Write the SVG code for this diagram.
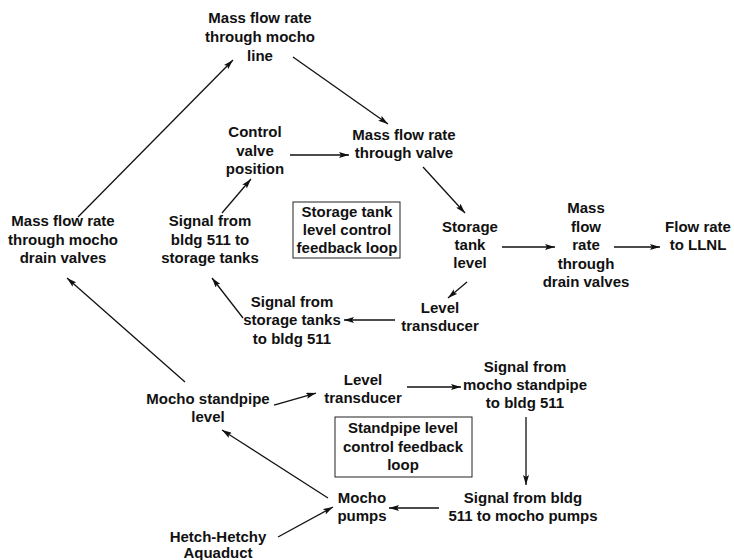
<svg xmlns="http://www.w3.org/2000/svg" width="734" height="560" viewBox="0 0 734 560">
<defs>
<marker id="ah" viewBox="0 0 10 6" markerWidth="10" markerHeight="6" refX="10" refY="3" orient="auto" markerUnits="userSpaceOnUse">
<path d="M0,0 L10,3 L0,6 L2,3 z" fill="#111"/>
</marker>
<style>
text{font-family:"Liberation Sans",Arial,Helvetica,sans-serif;font-size:15px;font-weight:bold;fill:#111;text-anchor:middle}
.c line{stroke:#111;stroke-width:1.3;marker-end:url(#ah)}
.box{fill:none;stroke:#222;stroke-width:1}
</style>
</defs>
<rect width="734" height="560" fill="#fff"/>
<g id="n1"><text x="260" y="23">Mass flow rate</text><text x="260" y="42">through mocho</text><text x="260" y="61">line</text></g>
<g id="n2"><text x="255" y="137">Control</text><text x="255" y="155.5">valve</text><text x="255" y="174">position</text></g>
<g id="n3"><text x="404" y="140">Mass flow rate</text><text x="404" y="158">through valve</text></g>
<g id="n4"><text x="210" y="226">Signal from</text><text x="210" y="245">bldg 511 to</text><text x="210" y="263">storage tanks</text></g>
<g id="n5"><text x="63" y="226">Mass flow rate</text><text x="63" y="245">through mocho</text><text x="63" y="263">drain valves</text></g>
<g id="box1"><rect class="box" x="293" y="202" width="107" height="56"/><text x="347" y="217">Storage tank</text><text x="347" y="235">level control</text><text x="347" y="253">feedback loop</text></g>
<g id="n6"><text x="470" y="232">Storage</text><text x="470" y="250">tank</text><text x="470" y="268">level</text></g>
<g id="n7"><text x="586" y="213">Mass</text><text x="586" y="231.5">flow</text><text x="586" y="250">rate</text><text x="586" y="268.5">through</text><text x="586" y="287">drain valves</text></g>
<g id="n8"><text x="698" y="232">Flow rate</text><text x="698" y="250">to LLNL</text></g>
<g id="n9"><text x="440" y="313">Level</text><text x="440" y="331">transducer</text></g>
<g id="n10"><text x="292" y="307">Signal from</text><text x="292" y="325">storage tanks</text><text x="292" y="344">to bldg 511</text></g>
<g id="n11"><text x="208" y="404">Mocho standpipe</text><text x="208" y="422">level</text></g>
<g id="n12"><text x="363" y="385">Level</text><text x="363" y="403">transducer</text></g>
<g id="n13"><text x="525" y="372">Signal from</text><text x="525" y="390">mocho standpipe</text><text x="525" y="408">to bldg 511</text></g>
<g id="box2"><rect class="box" x="335" y="417" width="137" height="60"/><text x="403" y="433">Standpipe level</text><text x="403" y="452">control feedback</text><text x="403" y="470">loop</text></g>
<g id="n14"><text x="523" y="503">Signal from bldg</text><text x="523" y="521">511 to mocho pumps</text></g>
<g id="n15"><text x="362" y="503">Mocho</text><text x="362" y="521">pumps</text></g>
<g id="n16"><text x="218" y="542">Hetch-Hetchy</text><text x="218" y="558">Aquaduct</text></g>
<g id="connectors" class="c">
<line x1="78" y1="217" x2="233" y2="60"/>
<line x1="293" y1="57" x2="388" y2="124"/>
<line x1="290" y1="155" x2="349" y2="155"/>
<line x1="222" y1="213" x2="251" y2="179"/>
<line x1="423" y1="167" x2="465" y2="213"/>
<line x1="502" y1="247" x2="555" y2="247"/>
<line x1="614" y1="247" x2="660" y2="247"/>
<line x1="467" y1="282" x2="448" y2="298"/>
<line x1="395" y1="320" x2="344" y2="320"/>
<line x1="243" y1="318" x2="212" y2="278"/>
<line x1="185" y1="382" x2="67" y2="278"/>
<line x1="274" y1="405" x2="316" y2="393"/>
<line x1="407" y1="387" x2="461" y2="387"/>
<line x1="526" y1="417" x2="526" y2="485"/>
<line x1="439" y1="508" x2="389" y2="508"/>
<line x1="328" y1="498" x2="222" y2="430"/>
<line x1="278" y1="537" x2="333" y2="507"/>
</g>
</svg>
